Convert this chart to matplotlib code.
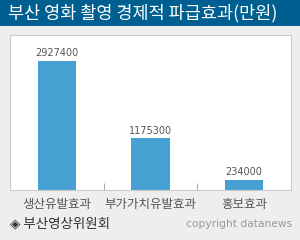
import matplotlib
matplotlib.use("Agg")
import matplotlib.pyplot as plt
from matplotlib.patches import Rectangle

plt.rcParams["font.family"] = ["Noto Sans CJK KR", "DejaVu Sans"]

title = "부산 영화 촬영 경제적 파급효과(만원)"
categories = ["생산유발효과", "부가가치유발효과", "홍보효과"]
values = [2927400, 1175300, 234000]
source = "◈ 부산영상위원회"
credit = "copyright datanews"

W, H = 300, 240
fig = plt.figure(figsize=(W / 100, H / 100), dpi=100, facecolor="#eeeeee")

# title bar
fig.patches.append(Rectangle((0, 1 - 26 / H), 1, 26 / H, transform=fig.transFigure,
                             facecolor="#005f91", edgecolor="none"))
fig.text(8 / W, 1 - 13 / H, title, color="white", fontsize=12.6,
         ha="left", va="center")

ax = fig.add_axes([10 / W, 1 - 190 / H, 281 / W, 155 / H])
ax.set_facecolor("white")
x = range(len(categories))
ax.bar(x, values, width=0.41, color="#47a0d2")
for xi, v in zip(x, values):
    ax.text(xi, v + 60000, str(v), ha="center", va="bottom", fontsize=7,
            color="#555555", family="DejaVu Sans")

ax.set_xlim(-0.5, len(categories) - 0.5)
ax.set_ylim(0, 3517000)
ax.set_yticks([])
ax.set_xticks([0.5, 1.5], minor=True)
ax.set_xticks(list(x))
ax.set_xticklabels(categories, fontsize=9, color="#555555")
ax.tick_params(axis="x", which="major", length=0, pad=6)
ax.tick_params(axis="x", which="minor", length=5, direction="in", color="#999999")
for s in ax.spines.values():
    s.set_color("#cccccc")

fig.text(10 / W, 1 - 223 / H, source, fontsize=9.7, color="#333333", ha="left", va="center")
fig.text(292 / W, 1 - 224 / H, credit, fontsize=7.7, color="#999999", ha="right", va="center",
         family="DejaVu Sans")

fig.savefig("out.png", dpi=100, facecolor=fig.get_facecolor())
